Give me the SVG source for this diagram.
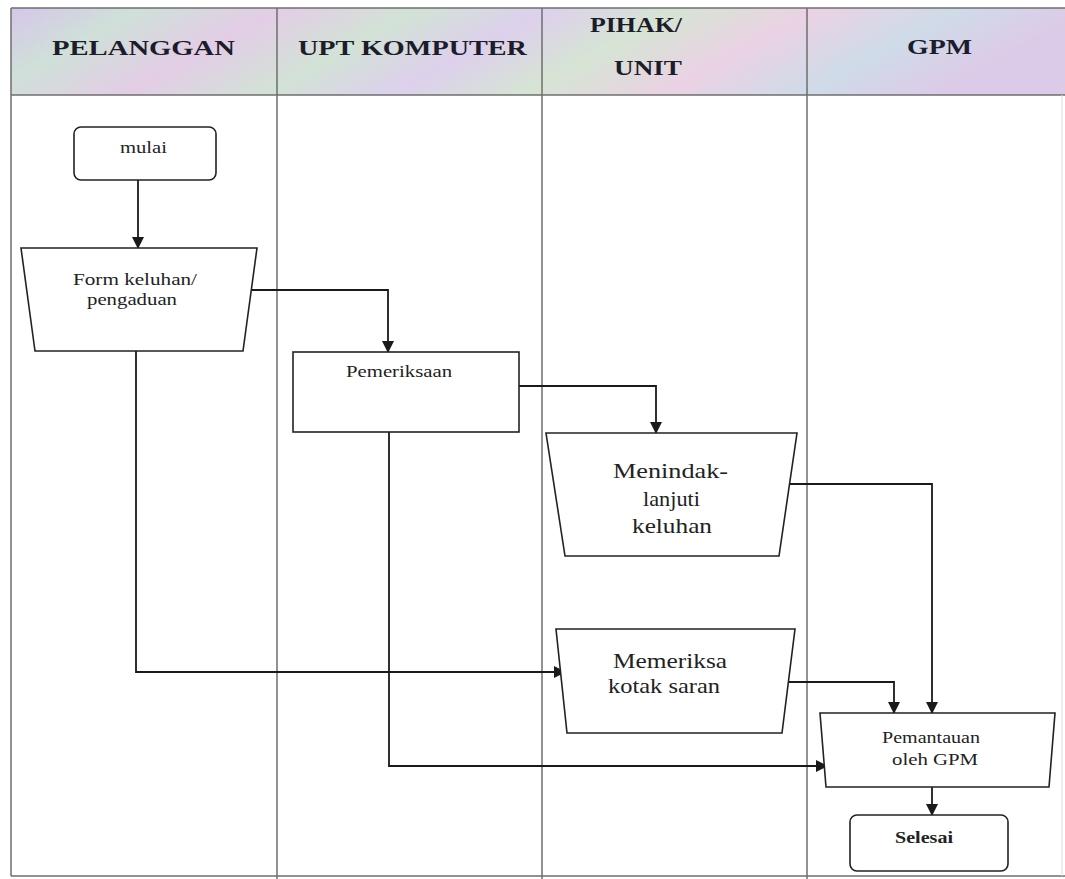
<svg xmlns="http://www.w3.org/2000/svg" width="1065" height="879" viewBox="0 0 1065 879">
<defs>
<linearGradient id="hdr" x1="0" y1="0" x2="1" y2="0.15">
<stop offset="0" stop-color="#d6c6ea"/>
<stop offset="0.12" stop-color="#cfe0d8"/>
<stop offset="0.25" stop-color="#e3cde6"/>
<stop offset="0.38" stop-color="#d2e2d6"/>
<stop offset="0.5" stop-color="#ddd0ec"/>
<stop offset="0.62" stop-color="#d6e4d4"/>
<stop offset="0.75" stop-color="#ead2e4"/>
<stop offset="0.88" stop-color="#cfdbe8"/>
<stop offset="1" stop-color="#dccbe8"/>
</linearGradient>
<marker id="arr" markerWidth="12" markerHeight="12" refX="11" refY="6" orient="auto" markerUnits="userSpaceOnUse">
<path d="M0,0 L12,6 L0,12 Z" fill="#1a1a1a"/>
</marker>
<style>
.lane{stroke:#6e6e6e;stroke-width:1.5;fill:none}
.hd{font-family:"Liberation Serif",serif;font-weight:bold;font-size:21px;fill:#1c1c2a}
.shape{fill:#fff;stroke:#222;stroke-width:1.6}
.sm{font-family:"Liberation Serif",serif;font-size:16px;fill:#222}
.lg{font-family:"Liberation Serif",serif;font-size:22px;fill:#222}
.con{stroke:#1a1a1a;stroke-width:1.8;fill:none;marker-end:url(#arr)}
</style>
</defs>
<rect width="1065" height="879" fill="#fff"/>
<g id="lanes">
<rect x="11" y="8" width="1054" height="87" fill="url(#hdr)"/>
<line class="lane" x1="11" y1="8" x2="1065" y2="8"/>
<line class="lane" x1="11" y1="95" x2="1065" y2="95"/>
<line class="lane" x1="11" y1="8" x2="11" y2="876"/>
<line class="lane" x1="277" y1="8" x2="277" y2="879"/>
<line class="lane" x1="542" y1="8" x2="542" y2="879"/>
<line class="lane" x1="807" y1="8" x2="807" y2="879"/>
<line class="lane" x1="11" y1="876" x2="1065" y2="876" stroke="#aaa"/>
<line x1="1062" y1="95" x2="1062" y2="876" stroke="#ddd" stroke-width="1"/>
<text class="hd" x="52" y="55" textLength="183" lengthAdjust="spacingAndGlyphs">PELANGGAN</text>
<text class="hd" x="298" y="55" textLength="229" lengthAdjust="spacingAndGlyphs">UPT KOMPUTER</text>
<text class="hd" x="590" y="32" textLength="92" lengthAdjust="spacingAndGlyphs">PIHAK/</text>
<text class="hd" x="614" y="75" textLength="68" lengthAdjust="spacingAndGlyphs">UNIT</text>
<text class="hd" x="907" y="54" textLength="65" lengthAdjust="spacingAndGlyphs">GPM</text>
</g>
<g id="connectors">
<line class="con" x1="138" y1="180" x2="138" y2="248"/>
<polyline class="con" points="248,290 388,290 388,352"/>
<polyline class="con" points="519,386 656,386 656,433"/>
<polyline class="con" points="781,484 932,484 932,713"/>
<polyline class="con" points="783,682 894,682 894,713"/>
<polyline class="con" points="136,351 136,672 565,672"/>
<polyline class="con" points="389,432 389,766 827,766"/>
<line class="con" x1="932" y1="787" x2="932" y2="815"/>
</g>
<g id="mulai">
<rect class="shape" x="74" y="127" width="142" height="53" rx="7"/>
<text class="sm" x="120" y="153" textLength="47" lengthAdjust="spacingAndGlyphs">mulai</text>
</g>
<g id="form">
<polygon class="shape" points="21,248 257,248 243,351 35,351"/>
<text class="sm" x="73" y="285" textLength="124" lengthAdjust="spacingAndGlyphs">Form keluhan/</text>
<text class="sm" x="87" y="305" textLength="90" lengthAdjust="spacingAndGlyphs">pengaduan</text>
</g>
<g id="pemeriksaan">
<rect class="shape" x="293" y="352" width="226" height="80"/>
<text class="sm" x="346" y="377" textLength="106" lengthAdjust="spacingAndGlyphs">Pemeriksaan</text>
</g>
<g id="menindak">
<polygon class="shape" points="546,433 797,433 779,556 565,556"/>
<text class="lg" x="613" y="478" textLength="115" lengthAdjust="spacingAndGlyphs">Menindak-</text>
<text class="lg" x="643" y="506" textLength="57" lengthAdjust="spacingAndGlyphs">lanjuti</text>
<text class="lg" x="632" y="533" textLength="80" lengthAdjust="spacingAndGlyphs">keluhan</text>
</g>
<g id="memeriksa">
<polygon class="shape" points="556,629 795,629 782,733 567,733"/>
<text class="lg" x="613" y="668" textLength="114" lengthAdjust="spacingAndGlyphs">Memeriksa</text>
<text class="lg" x="608" y="693" textLength="112" lengthAdjust="spacingAndGlyphs">kotak saran</text>
</g>
<g id="pemantauan">
<polygon class="shape" points="820,713 1055,713 1049,787 826,787"/>
<text class="sm" x="882" y="743" textLength="98" lengthAdjust="spacingAndGlyphs">Pemantauan</text>
<text class="sm" x="892" y="765" textLength="86" lengthAdjust="spacingAndGlyphs">oleh GPM</text>
</g>
<g id="selesai">
<rect class="shape" x="850" y="815" width="158" height="56" rx="7"/>
<text class="sm" x="895" y="843" font-weight="bold" textLength="58" lengthAdjust="spacingAndGlyphs">Selesai</text>
</g>
</svg>
